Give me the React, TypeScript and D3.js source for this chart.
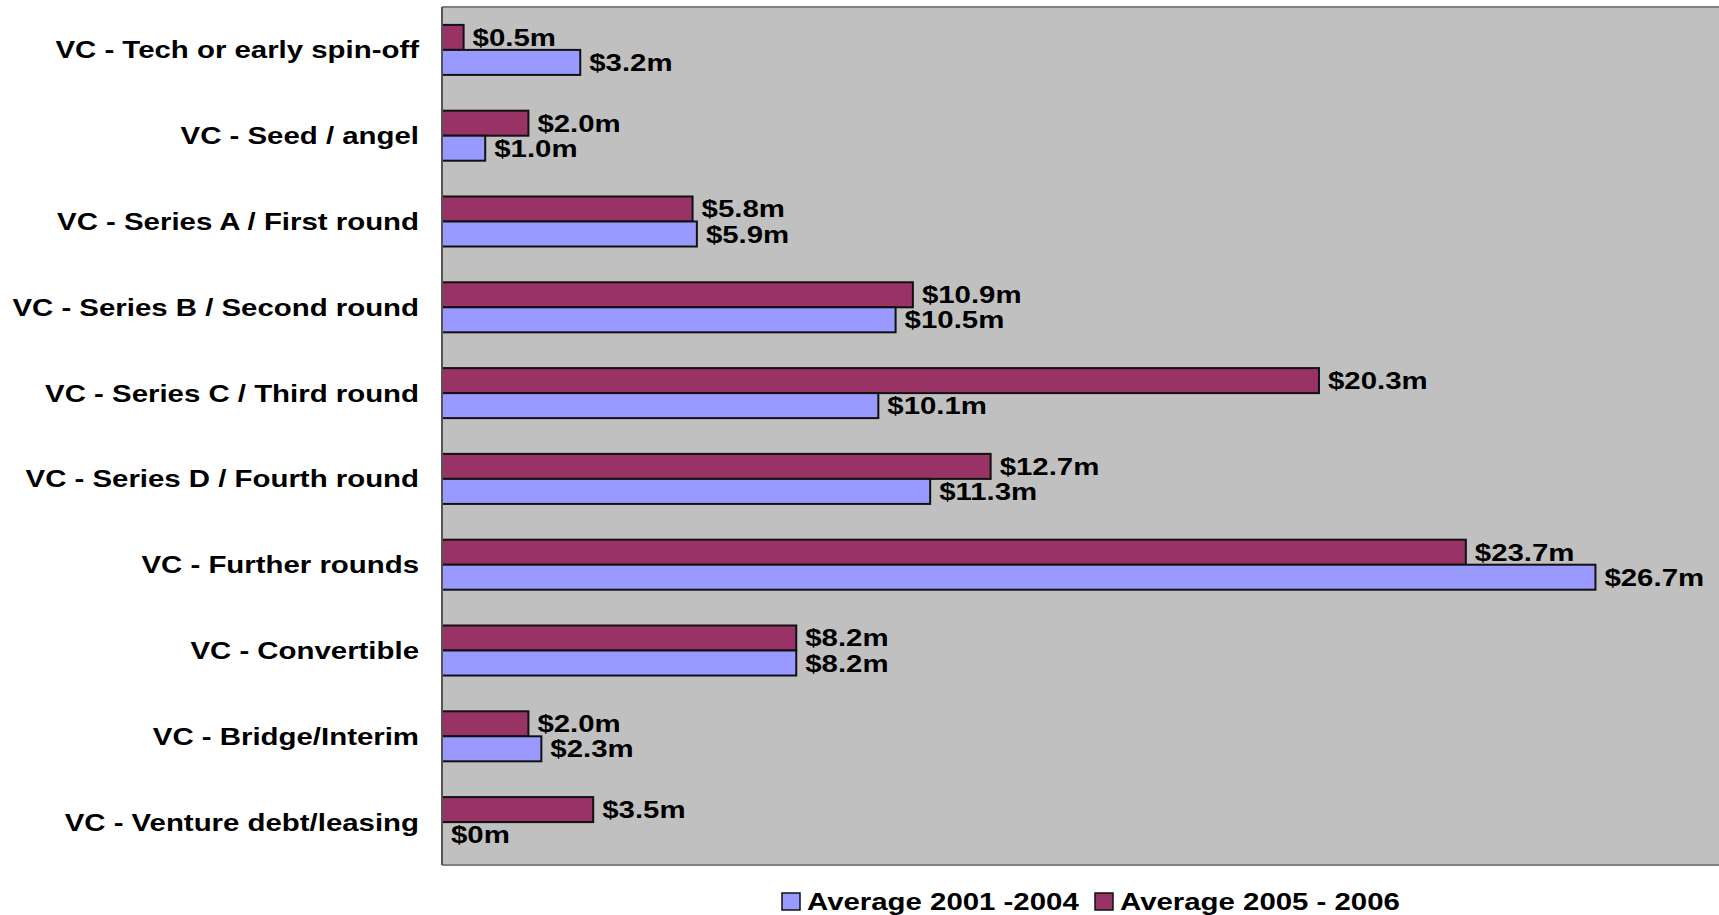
import React, { useEffect } from "react";
import * as d3 from "d3";

const categories = [
  "VC - Tech or early spin-off",
  "VC - Seed / angel",
  "VC - Series A / First round",
  "VC - Series B / Second round",
  "VC - Series C / Third round",
  "VC - Series D / Fourth round",
  "VC - Further rounds",
  "VC - Convertible",
  "VC - Bridge/Interim",
  "VC - Venture debt/leasing",
];
const avg2001_2004 = [3.2, 1.0, 5.9, 10.5, 10.1, 11.3, 26.7, 8.2, 2.3, 0];
const avg2005_2006 = [0.5, 2.0, 5.8, 10.9, 20.3, 12.7, 23.7, 8.2, 2.0, 3.5];
const seriesNames = ["Average 2005 - 2006", "Average 2001 -2004"];
const legendNames = ["Average 2001 -2004", "Average 2005 - 2006"];
const xDomain = [0, 30];

const W = 1719;
const H = 915;
const FONT = "'Liberation Sans', Arial, sans-serif";
const FS = 24.5;
const SX = 1.2;
const colors: Record<string, string> = {
  "Average 2001 -2004": "#9999FF",
  "Average 2005 - 2006": "#993366",
};

const fmt = (v: number) => (v === 0 ? "$0m" : `$${v.toFixed(1)}m`);

export default function App() {
  useEffect(() => {
    document.body.style.margin = "0";
    document.body.style.overflow = "hidden";
  }, []);

  const plotLeft = 442;
  const plotTop = 7;
  const plotBottom = 865;
  const x = d3.scaleLinear().domain(xDomain).range([plotLeft, 1738]);
  const y = d3
    .scaleBand<string>()
    .domain(categories)
    .range([plotTop, plotBottom])
    .paddingInner(0.417)
    .paddingOuter(0.2085);
  const sub = d3
    .scaleBand<string>()
    .domain(seriesNames)
    .range([0, y.bandwidth()]);

  const rows = categories.map((c, i) => ({
    c,
    vals: [
      { s: seriesNames[0], v: avg2005_2006[i] },
      { s: seriesNames[1], v: avg2001_2004[i] },
    ],
  }));

  const legendX = [782, 1095];

  return (
    <svg width={W} height={H} style={{ display: "block" }} fontFamily={FONT}>
      <rect x={0} y={0} width={W} height={H} fill="#fff" />
      <rect x={plotLeft} y={plotTop} width={W - plotLeft + 10} height={plotBottom - plotTop} fill="#C0C0C0" />
      <line x1={plotLeft} x2={W} y1={plotTop} y2={plotTop} stroke="#808080" strokeWidth={2} />
      <line x1={plotLeft} x2={W} y1={plotBottom} y2={plotBottom} stroke="#808080" strokeWidth={2} />
      {rows.map((r) => {
        const y0 = y(r.c)!;
        return (
          <g key={r.c}>
            <text
              transform={`translate(419,${y0 + y.bandwidth() / 2 + 8.5}) scale(${SX},1)`}
              textAnchor="end"
              fontSize={FS}
              fontWeight="bold"
              fill="#000"
            >
              {r.c}
            </text>
            {r.vals.map((d) => {
              const by = y0 + sub(d.s)!;
              const bh = sub.bandwidth();
              const xe = x(d.v);
              return (
                <g key={d.s}>
                  {d.v > 0 && (
                    <rect
                      x={x(0)}
                      y={by}
                      width={xe - x(0)}
                      height={bh}
                      fill={colors[d.s]}
                      stroke="#111"
                      strokeWidth={2}
                    />
                  )}
                  <text
                    transform={`translate(${xe + 9},${by + bh / 2 + 8.5}) scale(${SX},1)`}
                    fontSize={FS}
                    fontWeight="bold"
                    fill="#000"
                  >
                    {fmt(d.v)}
                  </text>
                </g>
              );
            })}
          </g>
        );
      })}
      <line x1={plotLeft} x2={plotLeft} y1={plotTop} y2={plotBottom} stroke="#555" strokeWidth={2} />
      {legendNames.map((n, i) => (
        <g key={n}>
          <rect x={legendX[i]} y={893} width={18} height={17} fill={colors[n]} stroke="#111" strokeWidth={1.5} />
          <text
            transform={`translate(${legendX[i] + 25},910) scale(${SX},1)`}
            fontSize={FS}
            fontWeight="bold"
            fill="#000"
          >
            {n}
          </text>
        </g>
      ))}
    </svg>
  );
}
